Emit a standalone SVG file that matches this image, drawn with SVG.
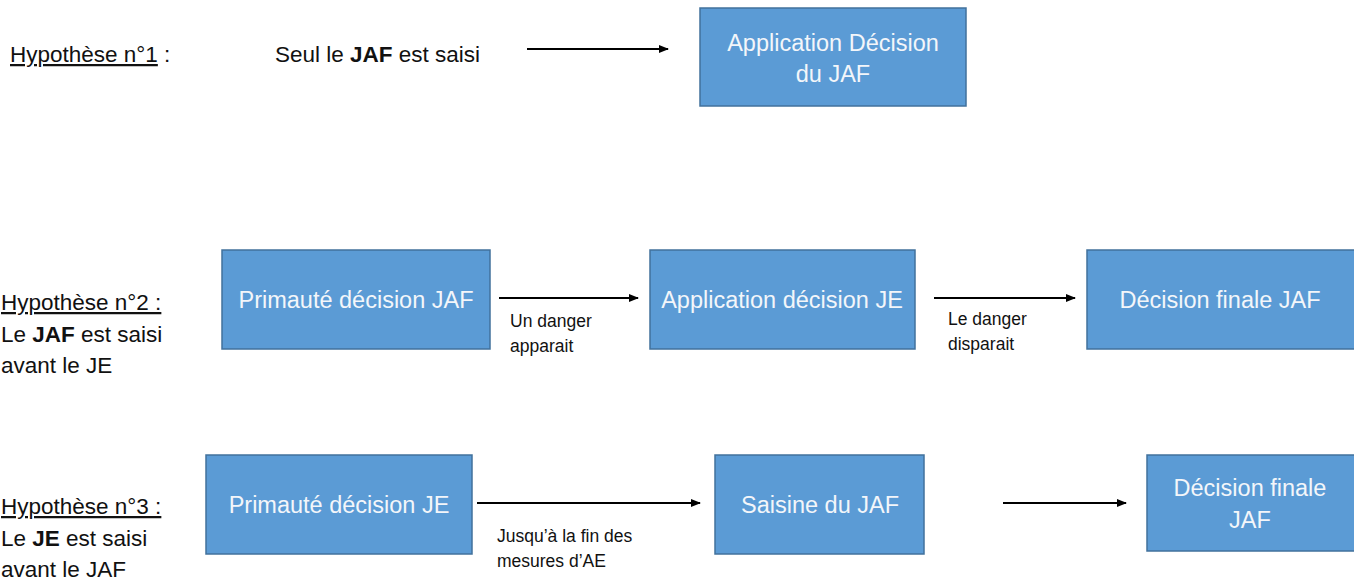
<svg xmlns="http://www.w3.org/2000/svg" width="1354" height="584" viewBox="0 0 1354 584">
<style>
text{font-family:"Liberation Sans",Arial,sans-serif;}
.box{fill:#5b9bd5;stroke:#41719c;stroke-width:1.5;}
.bt{fill:#f3f6fa;font-size:23.5px;text-anchor:middle;}
.lbl{fill:#111;font-size:22.5px;}
.sm{fill:#111;font-size:17.5px;}
.ul{text-decoration:underline;}
.conn{stroke:#000;stroke-width:2;fill:none;marker-end:url(#ah);}
</style>
<defs>
<marker id="ah" markerWidth="10" markerHeight="8" refX="9" refY="4" orient="auto" markerUnits="userSpaceOnUse">
<path d="M0,0 L10,4 L0,8 z" fill="#000"/>
</marker>
</defs>
<rect width="1354" height="584" fill="#fff"/>
<g id="labels">
<text class="lbl" x="10" y="62"><tspan class="ul">Hypothèse n°1</tspan> :</text>
<text class="lbl" x="275" y="62">Seul le <tspan font-weight="bold">JAF</tspan> est saisi</text>
<text class="lbl" x="1" y="310"><tspan class="ul">Hypothèse n°2 :</tspan></text>
<text class="lbl" x="1" y="342">Le <tspan font-weight="bold">JAF</tspan> est saisi</text>
<text class="lbl" x="1" y="373">avant le JE</text>
<text class="lbl" x="1" y="514"><tspan class="ul">Hypothèse n°3 :</tspan></text>
<text class="lbl" x="1" y="546">Le <tspan font-weight="bold">JE</tspan> est saisi</text>
<text class="lbl" x="1" y="577">avant le JAF</text>
</g>
<g id="n1"><rect class="box" x="700" y="8" width="266" height="98"/><text class="bt" x="833" y="51">Application Décision</text><text class="bt" x="833" y="82">du JAF</text></g>
<g id="n2a"><rect class="box" x="222" y="250" width="268" height="99"/><text class="bt" x="356" y="308">Primauté décision JAF</text></g>
<g id="n2b"><rect class="box" x="650" y="250" width="265" height="99"/><text class="bt" x="782" y="308">Application décision JE</text></g>
<g id="n2c"><rect class="box" x="1087" y="250" width="270" height="99"/><text class="bt" x="1220" y="308">Décision finale JAF</text></g>
<g id="n3a"><rect class="box" x="206" y="455" width="266" height="99"/><text class="bt" x="339" y="513">Primauté décision JE</text></g>
<g id="n3b"><rect class="box" x="715" y="455" width="209" height="99"/><text class="bt" x="820" y="513">Saisine du JAF</text></g>
<g id="n3c"><rect class="box" x="1147" y="455" width="210" height="96"/><text class="bt" x="1250" y="496">Décision finale</text><text class="bt" x="1250" y="528">JAF</text></g>
<g id="connectors">
<line class="conn" x1="527" y1="49" x2="668" y2="49"/>
<line class="conn" x1="499" y1="298" x2="638" y2="298"/>
<line class="conn" x1="934" y1="298" x2="1075" y2="298"/>
<line class="conn" x1="477" y1="503" x2="700" y2="503"/>
<line class="conn" x1="1003" y1="503" x2="1126" y2="503"/>
<text class="sm" x="510" y="327">Un danger</text>
<text class="sm" x="510" y="352">apparait</text>
<text class="sm" x="948" y="325">Le danger</text>
<text class="sm" x="948" y="350">disparait</text>
<text class="sm" x="497" y="542">Jusqu’à la fin des</text>
<text class="sm" x="497" y="567">mesures d’AE</text>
</g>
</svg>
